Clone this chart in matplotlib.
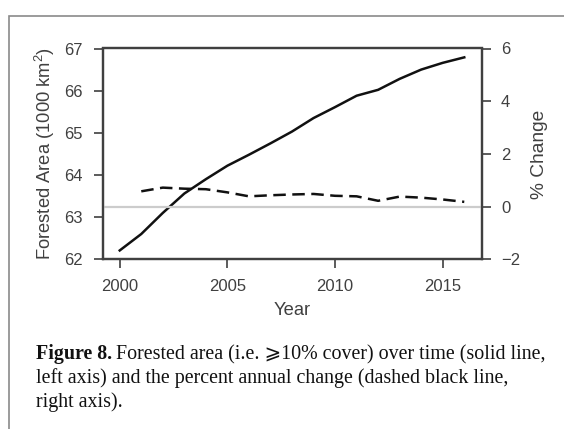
import matplotlib
matplotlib.use("Agg")
import matplotlib.pyplot as plt
from matplotlib.patches import Rectangle

years = list(range(2000, 2017))
area = [62.21, 62.60, 63.10, 63.56, 63.90, 64.22, 64.48, 64.75, 65.03, 65.35,
        65.61, 65.88, 66.02, 66.28, 66.50, 66.66, 66.79]
change_years = list(range(2001, 2017))
pct_change = [0.58, 0.72, 0.68, 0.66, 0.54, 0.39, 0.43, 0.46, 0.48, 0.41,
              0.39, 0.22, 0.38, 0.34, 0.27, 0.18]
x_ticks = [2000, 2005, 2010, 2015]
left_ticks = [62, 63, 64, 65, 66, 67]
right_ticks = [-2, 0, 2, 4, 6]

plt.rcParams['mathtext.fontset'] = 'custom'
plt.rcParams['mathtext.rm'] = 'Liberation Sans'
plt.rcParams['mathtext.it'] = 'Liberation Sans'

W, H = 564, 429
fig = plt.figure(figsize=(W / 100, H / 100), dpi=100)
fig.patches.append(Rectangle((9 / W, -0.1), 1.2, 1 - 16 / H + 0.1,
                             transform=fig.transFigure, fill=False,
                             edgecolor='#8a8a8a', lw=1.2))

spine_c = '#404040'
text_c = '#404040'
ax = fig.add_axes([102.5 / W, 1 - 259.3 / H, (481.5 - 102.5) / W, (259.3 - 48.5) / H])
ax2 = ax.twinx()

ax2.axhline(0, color='#cccccc', lw=1.6, zorder=1)
ax.plot(years, area, color='#111111', lw=1.8, zorder=3)
ax2.plot(change_years, pct_change, color='#111111', lw=1.8, dashes=(5, 2.6), zorder=3)

ax.set_xlim(1999.2, 2016.8)
ax.set_ylim(62, 67)
ax2.set_ylim(-2, 6)
ax.set_xticks(x_ticks)
ax.set_yticks(left_ticks)
ax2.set_yticks(right_ticks)
ax2.set_yticklabels(['\u22122', '0', '2', '4', '6'])

for a in (ax, ax2):
    for s in a.spines.values():
        s.set_color(spine_c)
        s.set_linewidth(1.6)
    a.tick_params(direction='out', length=6.5, width=1.2, color=spine_c,
                  labelcolor=text_c, labelsize=12, pad=7.5)
    for lab in a.get_xticklabels() + a.get_yticklabels():
        lab.set_family('Liberation Sans')

ax.set_xlabel('Year', fontsize=13.2, color=text_c, family='Liberation Sans', labelpad=6)
ax.set_ylabel('Forested Area (1000 km$^2$)', fontsize=13.2, color=text_c,
              family='Liberation Sans', labelpad=5)
ax2.set_ylabel('% Change', fontsize=13.8, color=text_c, family='Liberation Sans', labelpad=8)

# caption
cap_fs = 14.4
x0 = 36.5 / W
fam = ['Liberation Serif', 'DejaVu Sans', 'DejaVu Serif']
t1 = fig.text(x0, 1 - 359 / H, 'Figure 8.', fontsize=cap_fs, fontweight='bold',
              family=fam, va='baseline', color='#111111')
fig.canvas.draw()
r = fig.canvas.get_renderer()
bb = t1.get_window_extent(renderer=r)
fig.text((bb.x1 + 3) / W, 1 - 359 / H,
         'Forested area (i.e. \u2a7e10% cover) over time (solid line,',
         fontsize=cap_fs, family=fam, va='baseline', color='#111111')
fig.text(x0, 1 - 383 / H,
         'left axis) and the percent annual change (dashed black line,',
         fontsize=cap_fs, family=fam, va='baseline', color='#111111')
fig.text(x0, 1 - 406.5 / H, 'right axis).',
         fontsize=cap_fs, family=fam, va='baseline', color='#111111')

fig.savefig('out.png', dpi=100)
